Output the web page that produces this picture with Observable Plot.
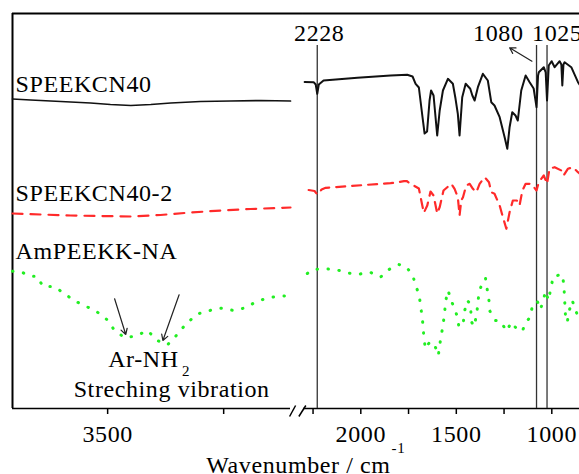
<!DOCTYPE html>
<html><head><meta charset="utf-8">
<script src="https://cdn.jsdelivr.net/npm/d3@7"></script>
<script src="https://cdn.jsdelivr.net/npm/@observablehq/plot@0.6"></script>
<style>
html,body{margin:0;padding:0;background:#fff;}
#chart{position:relative;width:579px;height:474px;overflow:hidden;background:#fff;}
#chart svg{position:absolute;left:0;top:0;font-family:"Liberation Serif","DejaVu Serif",serif !important;}
#chart svg text{letter-spacing:0.6px;font-family:"Liberation Serif","DejaVu Serif",serif !important;}
</style></head><body><div id="chart"></div>
<script>
// ---- Data: [wavenumber (cm-1), transmittance (a.u., offset)] ----
const speekcn40Left = [[3705,309.5],[3666,308.5],[3601,307],[3537,305.5],[3494,304],[3450,303],[3407,304],[3364,305.5],[3300,307],[3235,307.5],[3170,308],[3106,307.5]];
const speekcn40Right = [[2294,326.5],[2247,326.3],[2236,324],[2228,314.7],[2220,324],[2195,328],[2018,330.7],[1844,333],[1757,333.7],[1729,332],[1713,324.7],[1696,321],[1678,293],[1666,275],[1653,277],[1640,308],[1632,318],[1619,313],[1600,273],[1587,298],[1570,318],[1544,329.7],[1518,324.7],[1504,309.7],[1492,294.7],[1483,273],[1469,311.3],[1451,324.7],[1427,319.7],[1416,313],[1404,308],[1387,321.3],[1361,334.7],[1335,328],[1317,306.3],[1300,303],[1273,291.3],[1247,271.3],[1233,259.7],[1221,281.3],[1207,296.3],[1190,293],[1178,288],[1160,318],[1137,333],[1116,326.3],[1095,320],[1080,301.3],[1072,333],[1068,336.3],[1042,341.3],[1032,336],[1025,308],[1016,343],[1001,347.3],[985,341.3],[959,347.3],[950,344],[945,323],[939,344],[933,346.3],[898,341.3],[863,326.3],[855,324]];

const speekcn40_2Left = [[3705,195],[3644,194],[3580,193],[3515,192.5],[3450,192],[3386,193.5],[3321,196],[3256,198],[3192,199.5],[3106,201]];
const speekcn40_2Right = [[2273,218.5],[2242,217.5],[2228,214],[2205,219],[2184,220.7],[1966,223.7],[1844,225.3],[1774,227.3],[1760,227.5],[1739,224.7],[1696,220],[1678,203],[1670,195.7],[1652,203],[1635,217],[1619,213],[1600,195],[1587,201.3],[1567,218],[1526,224.7],[1509,219.7],[1492,211.3],[1483,193],[1474,208],[1465,211.3],[1448,223],[1430,224.7],[1413,219.7],[1395,216.3],[1378,224.7],[1352,231.3],[1329,226.3],[1317,216.3],[1300,214.7],[1273,203],[1256,191.3],[1238,179.7],[1221,196.3],[1204,208],[1183,208],[1169,203],[1154,218],[1137,224.7],[1107,224.7],[1080,218],[1068,226.3],[1042,233],[1025,224.7],[1012,239.7],[985,241.3],[950,238],[938,233],[916,239.7],[890,241.3],[863,236.3],[855,235]];

const amPeekkLeft = [[3705,137.3],[3685,136.3],[3667,132.3],[3653,132.3],[3639,122],[3616,122],[3594,115.3],[3573,108],[3550,103],[3524,97],[3501,88.7],[3485,78],[3463,70.7],[3438,72.7],[3414,78],[3393,68],[3371,63.7],[3350,74],[3330,85.3],[3305,94.7],[3280,98],[3255,100.3],[3228,98],[3203,100.7],[3179,107],[3154,110.7],[3127,112.7],[3101,112]];
const amPeekkRight = [[2280,135],[2252,139],[2193,139.7],[2132,139],[2067,135.5],[2010,134.3],[1952,136.3],[1896,131.5],[1853,139],[1801,144],[1764,142],[1729,133.7],[1712,122.5],[1695,114],[1687,103],[1679,91.3],[1673,81],[1670,70.5],[1661,59.7],[1638,67],[1611,62.3],[1594,53],[1587,63.7],[1577,74.7],[1568,85.7],[1561,96.3],[1556,107.3],[1543,118],[1526,107.3],[1513,102],[1495,92],[1486,81.3],[1463,86.3],[1457,97.3],[1442,108],[1425,104],[1422,87.3],[1408,82],[1394,93],[1382,114.7],[1364,126.3],[1347,130.3],[1338,118.7],[1329,108],[1324,97.3],[1294,88],[1268,87.3],[1237,77.3],[1212,86.3],[1181,79],[1154,77.3],[1137,86.3],[1115,90.7],[1102,102],[1076,107.3],[1059,99],[1032,117.3],[1018,108],[992,132.3],[945,134],[937,123.7],[928,91.3],[919,86.3],[910,97],[893,108],[858,89],[855,88]];

const seriesNames = ["SPEEKCN40", "SPEEKCN40-2", "AmPEEKK-NA"];
const seriesLabelY = [316.3, 208, 149.7];
const markedPeaks = [2228, 1080, 1025];
const peakLabels = ["2228", "1080", "1025"];
const leftTicks = [3500, 3250];
const rightTicks = [2250, 2000, 1750, 1500, 1250, 1000];
const labeledTicks = [3500, 2000, 1500, 1000];
const leftDomain = [3705, 3106];
const rightDomain = [2300, 855];
const yDomain = [0, 395];
const nh2Arrows = [[3485,109.7,3461,74],[3346,113.7,3381,68]];
const peakArrow = [[1104,347.3,1221,360.7]];
const breakMarks = [[3108,-8,3095,3],[3088,-8,3073,3]];

const W = 579, H = 474;
const FONT = "'Liberation Serif', 'DejaVu Serif', serif";
const baseStyle = {fontFamily: FONT, fontSize: "24px", background: "transparent", overflow: "visible", color: "#000"};
const X = d => d[0], Y = d => d[1];
const fmt = d => labeledTicks.includes(d) ? String(d) : "";
const txt = {text: d => d, lineAnchor: "bottom", fill: "#000", fontFamily: FONT};
const dotted = {stroke: "#22ee22", strokeWidth: 3, strokeDasharray: "0.5,10.5", strokeLinecap: "round"};

const left = Plot.plot({
  width: W, height: H,
  marginTop: 13, marginBottom: 66, marginLeft: 12, marginRight: 0,
  x: {domain: leftDomain, range: [12, 290], axis: null},
  y: {domain: yDomain, axis: null},
  style: baseStyle,
  marks: [
    Plot.ruleY([yDomain[1]], {x1: leftDomain[0], x2: 3078, strokeWidth: 2, stroke: "#000"}),
    Plot.ruleX([leftDomain[0]], {y1: yDomain[0], y2: yDomain[1], strokeWidth: 2, stroke: "#000"}),
    Plot.ruleY([yDomain[0]], {x1: leftDomain[0], x2: leftDomain[1], strokeWidth: 1.5, stroke: "#000"}),
    Plot.axisX({ticks: leftTicks, tickFormat: fmt, tickSize: 6, tickPadding: 10, strokeWidth: 1.5, fill: "#000", fontFamily: FONT}),
    Plot.link(breakMarks, {x1: d => d[0], y1: d => d[1], x2: d => d[2], y2: d => d[3], stroke: "#000", strokeWidth: 1.5}),
    Plot.line(speekcn40Left, {x: X, y: Y, stroke: "#111", strokeWidth: 1.7}),
    Plot.line(speekcn40_2Left, {x: X, y: Y, stroke: "#ff2a2a", strokeWidth: 2.2, strokeDasharray: "10,8"}),
    Plot.line(amPeekkLeft, {x: X, y: Y, ...dotted}),
    Plot.text(seriesNames, {...txt, x: leftDomain[0], y: (d, i) => seriesLabelY[i], textAnchor: "start", dx: 3}),
    Plot.arrow(nh2Arrows, {x1: d => d[0], y1: d => d[1], x2: d => d[2], y2: d => d[3], stroke: "#222", strokeWidth: 1.2, headLength: 8}),
    Plot.text(["Ar-NH"], {...txt, x: 3347, y: 41.3, textAnchor: "end"}),
    Plot.text(["2"], {...txt, x: 3340, y: 32.3, textAnchor: "start", fontSize: 15}),
    Plot.text(["Streching vibration"], {...txt, x: 3362, y: 11.3, textAnchor: "middle"})
  ]
});

const right = Plot.plot({
  width: W, height: H,
  marginTop: 13, marginBottom: 66, marginLeft: 303, marginRight: 0,
  x: {domain: rightDomain, range: [303, 579], axis: null},
  y: {domain: yDomain, axis: null},
  style: baseStyle,
  marks: [
    Plot.ruleY([yDomain[1]], {x1: rightDomain[0], x2: rightDomain[1], strokeWidth: 2, stroke: "#000"}),
    Plot.ruleY([yDomain[0]], {x1: rightDomain[0], x2: rightDomain[1], strokeWidth: 1.5, stroke: "#000"}),
    Plot.axisX({ticks: rightTicks, tickFormat: fmt, tickSize: 6, tickPadding: 10, strokeWidth: 1.5, fill: "#000", fontFamily: FONT}),
    Plot.ruleX(markedPeaks, {y1: yDomain[0], y2: 363, stroke: "#333", strokeWidth: 1.3}),
    Plot.line(speekcn40Right, {x: X, y: Y, stroke: "#111", strokeWidth: 2}),
    Plot.line(speekcn40_2Right, {x: X, y: Y, stroke: "#ff2a2a", strokeWidth: 2.2, strokeDasharray: "9,7"}),
    Plot.line(amPeekkRight, {x: X, y: Y, ...dotted}),
    Plot.text([peakLabels[0]], {...txt, x: markedPeaks[0], y: 367.3, textAnchor: "middle", dx: 2}),
    Plot.text([peakLabels[1]], {...txt, x: markedPeaks[1], y: 367.3, textAnchor: "end", dx: -13}),
    Plot.text([peakLabels[2]], {...txt, x: markedPeaks[2], y: 367.3, textAnchor: "start", dx: -15}),
    Plot.arrow(peakArrow, {x1: d => d[0], y1: d => d[1], x2: d => d[2], y2: d => d[3], stroke: "#222", strokeWidth: 1.2, headLength: 8}),
    Plot.text(["Wavenumber / cm"], {...txt, x: 1844, y: -64.4, textAnchor: "end"}),
    Plot.text(["-1"], {...txt, x: 1839, y: -44, textAnchor: "start", fontSize: 15})
  ]
});

const chart = document.getElementById("chart");
chart.appendChild(left);
chart.appendChild(right);
</script></body></html>
